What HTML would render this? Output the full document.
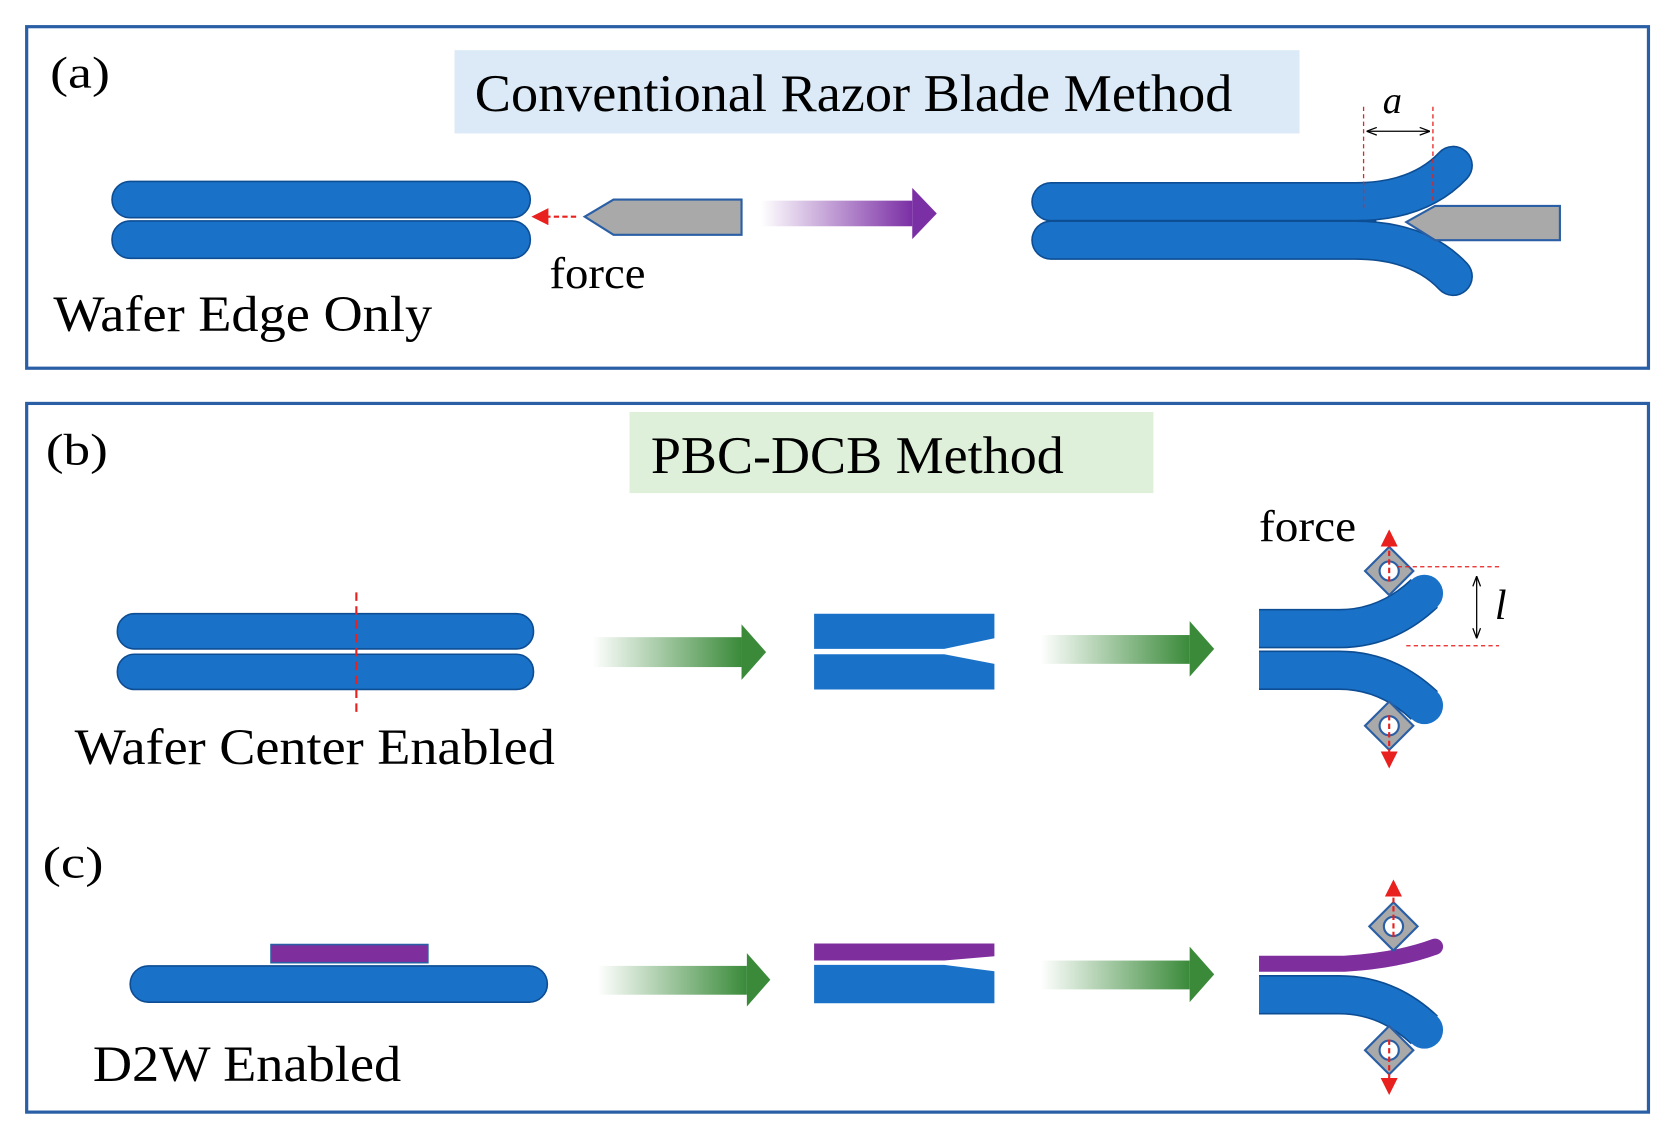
<!DOCTYPE html>
<html><head><meta charset="utf-8"><style>
html,body{margin:0;padding:0;background:#fff;}
svg{display:block;}
text{font-family:"Liberation Serif",serif;fill:#000;}
</style></head><body>
<svg width="1673" height="1142" viewBox="0 0 1568 1070" preserveAspectRatio="none" xmlns="http://www.w3.org/2000/svg">
<defs>
<linearGradient id="gp" x1="0" x2="1" y1="0" y2="0"><stop offset="0" stop-color="#7b2fa5" stop-opacity="0"/><stop offset="1" stop-color="#7b2fa5"/></linearGradient>
<linearGradient id="gg" x1="0" x2="1" y1="0" y2="0"><stop offset="0" stop-color="#3a8a3a" stop-opacity="0"/><stop offset="1" stop-color="#3a8a3a"/></linearGradient>
<marker id="ra" markerWidth="8" markerHeight="8" refX="6" refY="4" orient="auto"><path d="M0,0 L8,4 L0,8 Z" fill="#e8201e"/></marker>
<marker id="ka" markerWidth="8" markerHeight="8" refX="7" refY="4" orient="auto-start-reverse"><path d="M0,1 L8,4 L0,7" fill="none" stroke="#000" stroke-width="1"/></marker>
</defs>
<rect x="0" y="0" width="1568" height="1070" fill="#fff"/>
<rect x="25" y="25" width="1520" height="320" fill="none" stroke="#2a5fa5" stroke-width="3"/>
<rect x="25" y="378" width="1520" height="664" fill="none" stroke="#2a5fa5" stroke-width="3"/>

<!-- panel a -->
<text x="47" y="82" font-size="42" textLength="56" lengthAdjust="spacingAndGlyphs">(a)</text>
<rect x="426" y="47" width="792" height="78" fill="#dbeaf6"/>
<text x="445" y="104" font-size="50" textLength="710" lengthAdjust="spacingAndGlyphs">Conventional Razor Blade Method</text>
<rect x="105" y="170" width="392" height="34" rx="17" fill="#1a72c8" stroke="#0d4d94" stroke-width="1.5"/>
<rect x="105" y="207" width="392" height="35" rx="17" fill="#1a72c8" stroke="#0d4d94" stroke-width="1.5"/>
<line x1="540" y1="203" x2="502" y2="203" stroke="#e8201e" stroke-width="2" stroke-dasharray="5,3" marker-end="url(#ra)"/>
<polygon points="548,203 575,187 695,187 695,220 575,220" fill="#a9a9a9" stroke="#2a5fa5" stroke-width="2"/>
<text x="515" y="270" font-size="42" textLength="90" lengthAdjust="spacingAndGlyphs">force</text>
<text x="50" y="310" font-size="48" textLength="355" lengthAdjust="spacingAndGlyphs">Wafer Edge Only</text>
<rect x="713" y="188" width="142" height="24" fill="url(#gp)"/>
<polygon points="855,176 878,200 855,224" fill="#7b2fa5"/>
<!-- right a -->
<path d="M985,189 L1270,189 Q1330,189 1362,155" fill="none" stroke="#0d4d94" stroke-width="37" stroke-linecap="round"/>
<path d="M985,189 L1270,189 Q1330,189 1362,155" fill="none" stroke="#1a72c8" stroke-width="34" stroke-linecap="round"/>
<path d="M985,225 L1270,225 Q1330,225 1362,259" fill="none" stroke="#0d4d94" stroke-width="37" stroke-linecap="round"/>
<path d="M985,225 L1270,225 Q1330,225 1362,259" fill="none" stroke="#1a72c8" stroke-width="34" stroke-linecap="round"/>
<line x1="985" y1="207" x2="1290" y2="207" stroke="#0d4d94" stroke-width="2"/>
<polygon points="1318,208 1345,193 1462,193 1462,225 1345,225" fill="#a9a9a9" stroke="#2a5fa5" stroke-width="2"/>
<line x1="1278" y1="100" x2="1278" y2="198" stroke="#e8201e" stroke-width="1.2" stroke-dasharray="4,3"/>
<line x1="1343" y1="100" x2="1343" y2="190" stroke="#e8201e" stroke-width="1.2" stroke-dasharray="4,3"/>
<line x1="1282" y1="123" x2="1339" y2="123" stroke="#000" stroke-width="1.2" marker-start="url(#ka)" marker-end="url(#ka)"/>
<text x="1296" y="106" font-size="36" font-style="italic">a</text>

<!-- panel b -->
<text x="43" y="435" font-size="42" textLength="58" lengthAdjust="spacingAndGlyphs">(b)</text>
<rect x="590" y="386" width="491" height="76" fill="#dff0da"/>
<text x="610" y="443" font-size="50" textLength="387" lengthAdjust="spacingAndGlyphs">PBC-DCB Method</text>
<rect x="110" y="575" width="390" height="33" rx="16" fill="#1a72c8" stroke="#0d4d94" stroke-width="1.5"/>
<rect x="110" y="613" width="390" height="33" rx="16" fill="#1a72c8" stroke="#0d4d94" stroke-width="1.5"/>
<line x1="334" y1="555" x2="334" y2="667" stroke="#e8201e" stroke-width="2" stroke-dasharray="8,5"/>
<text x="70" y="716" font-size="48" textLength="450" lengthAdjust="spacingAndGlyphs">Wafer Center Enabled</text>
<rect x="555" y="597" width="140" height="28" fill="url(#gg)"/>
<polygon points="695,585 718,611 695,637" fill="#3a8a3a"/>
<polygon points="763,575 932,575 932,598 885,608 763,608" fill="#1a72c8"/>
<polygon points="763,613 885,613 932,622 932,646 763,646" fill="#1a72c8"/>
<rect x="975" y="595" width="140" height="27" fill="url(#gg)"/>
<polygon points="1115,582 1138,608 1115,634" fill="#3a8a3a"/>
<!-- right b -->
<path d="M1180,589 L1255,589 Q1300,589 1335,556" fill="none" stroke="#0d4d94" stroke-width="37" stroke-linecap="butt"/>
<path d="M1180,589 L1255,589 Q1300,589 1335,556" fill="none" stroke="#1a72c8" stroke-width="34" stroke-linecap="butt"/>
<circle cx="1335" cy="556" r="17.5" fill="#1a72c8"/>
<path d="M1180,628 L1255,628 Q1300,628 1335,661" fill="none" stroke="#0d4d94" stroke-width="37" stroke-linecap="butt"/>
<path d="M1180,628 L1255,628 Q1300,628 1335,661" fill="none" stroke="#1a72c8" stroke-width="34" stroke-linecap="butt"/>
<circle cx="1335" cy="661" r="17.5" fill="#1a72c8"/>
<g transform="translate(1302,535) rotate(45)"><rect x="-16" y="-16" width="32" height="32" fill="#a9a9a9" stroke="#2a5fa5" stroke-width="2"/><circle r="9" fill="#fff" stroke="#2a5fa5" stroke-width="2"/></g>
<g transform="translate(1302,680) rotate(45)"><rect x="-16" y="-16" width="32" height="32" fill="#a9a9a9" stroke="#2a5fa5" stroke-width="2"/><circle r="9" fill="#fff" stroke="#2a5fa5" stroke-width="2"/></g>
<line x1="1302" y1="545" x2="1302" y2="500" stroke="#e8201e" stroke-width="2" stroke-dasharray="5,3" marker-end="url(#ra)"/>
<line x1="1302" y1="670" x2="1302" y2="716" stroke="#e8201e" stroke-width="2" stroke-dasharray="5,3" marker-end="url(#ra)"/>
<line x1="1310" y1="531" x2="1405" y2="531" stroke="#e8201e" stroke-width="1.2" stroke-dasharray="4,3"/>
<line x1="1318" y1="605" x2="1405" y2="605" stroke="#e8201e" stroke-width="1.2" stroke-dasharray="4,3"/>
<line x1="1384" y1="541" x2="1384" y2="597" stroke="#000" stroke-width="1.2" marker-start="url(#ka)" marker-end="url(#ka)"/>
<text x="1401" y="580" font-size="40" font-style="italic">l</text>
<text x="1180" y="507" font-size="42" textLength="91" lengthAdjust="spacingAndGlyphs">force</text>

<!-- panel c -->
<text x="40" y="822" font-size="42" textLength="57" lengthAdjust="spacingAndGlyphs">(c)</text>
<rect x="254" y="885" width="147" height="17" fill="#7f2e9e" stroke="#2a5fa5" stroke-width="1.5"/>
<rect x="122" y="905" width="391" height="34" rx="17" fill="#1a72c8" stroke="#0d4d94" stroke-width="1.5"/>
<text x="87" y="1013" font-size="48" textLength="289" lengthAdjust="spacingAndGlyphs">D2W Enabled</text>
<rect x="560" y="905" width="140" height="27" fill="url(#gg)"/>
<polygon points="700,893 722,918 700,943" fill="#3a8a3a"/>
<polygon points="763,884 932,884 932,896 885,900 763,900" fill="#7f2e9e"/>
<polygon points="763,904 885,904 932,910 932,940 763,940" fill="#1a72c8"/>
<rect x="975" y="900" width="140" height="27" fill="url(#gg)"/>
<polygon points="1115,887 1138,913 1115,939" fill="#3a8a3a"/>
<!-- right c -->
<path d="M1180,903 L1260,903 Q1310,900 1345,887" fill="none" stroke="#7f2e9e" stroke-width="15" stroke-linecap="butt"/>
<circle cx="1345" cy="887" r="7.5" fill="#7f2e9e"/>
<path d="M1180,932 L1255,932 Q1300,932 1335,965" fill="none" stroke="#0d4d94" stroke-width="37" stroke-linecap="butt"/>
<path d="M1180,932 L1255,932 Q1300,932 1335,965" fill="none" stroke="#1a72c8" stroke-width="34" stroke-linecap="butt"/>
<circle cx="1335" cy="965" r="17.5" fill="#1a72c8"/>
<g transform="translate(1306,868) rotate(45)"><rect x="-16" y="-16" width="32" height="32" fill="#a9a9a9" stroke="#2a5fa5" stroke-width="2"/><circle r="9" fill="#fff" stroke="#2a5fa5" stroke-width="2"/></g>
<g transform="translate(1302,984) rotate(45)"><rect x="-16" y="-16" width="32" height="32" fill="#a9a9a9" stroke="#2a5fa5" stroke-width="2"/><circle r="9" fill="#fff" stroke="#2a5fa5" stroke-width="2"/></g>
<line x1="1306" y1="878" x2="1306" y2="828" stroke="#e8201e" stroke-width="2" stroke-dasharray="5,3" marker-end="url(#ra)"/>
<line x1="1302" y1="974" x2="1302" y2="1022" stroke="#e8201e" stroke-width="2" stroke-dasharray="5,3" marker-end="url(#ra)"/>
</svg>
</body></html>
